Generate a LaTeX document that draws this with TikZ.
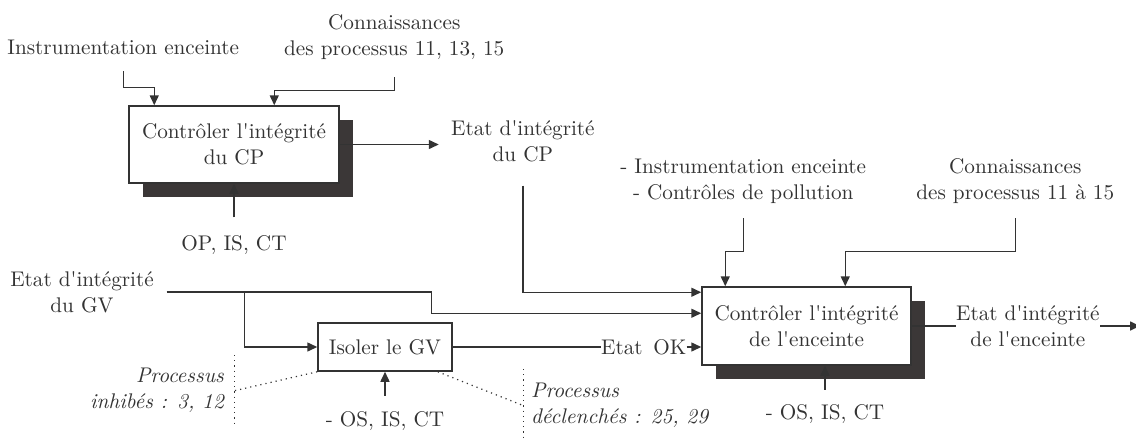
\documentclass[tikz,border=0pt]{standalone}
\usepackage{tikz}
\usetikzlibrary{positioning,calc,shadows,arrows.meta}
\definecolor{ink}{HTML}{333333}
\definecolor{shade}{HTML}{3B3737}
\newcommand{\ap}{\textquotesingle}

\begin{document}
\begin{tikzpicture}[
  font=\fontsize{10.6pt}{13pt}\selectfont,
  text=ink,
  task/.style={rectangle, draw=ink, line width=0.75pt, fill=white, inner sep=0pt, align=center},
  process/.style={task, general shadow={fill=shade, shadow xshift=7pt, shadow yshift=-7pt}},
  flowtext/.style={inner sep=0pt, align=center},
  remark/.style={inner sep=0pt, font=\fontsize{10.6pt}{13pt}\selectfont\itshape},
  arrow/.style={-{Triangle[length=5pt, width=4.5pt]}, draw=ink, line width=0.75pt},
  link/.style={draw=ink, line width=0.75pt},
  hint/.style={draw=ink, dotted, line width=0.6pt}
]
\useasboundingbox (0,0) rectangle (568pt,-220pt);
% boxes
\node[process, minimum width=105pt, minimum height=38.5pt] (cp) at (117pt,-72.25pt) {Contrôler l\ap intégrité\\du CP};
\node[process, minimum width=104.5pt, minimum height=39pt] (enc) at (403.25pt,-163pt) {Contrôler l\ap intégrité\\de l\ap enceinte};
\node[task, minimum width=67pt, minimum height=24pt] (iso) at (192.5pt,-173.5pt) {Isoler le GV};
% texts round the CP box
\node[flowtext, above=25pt of cp.north west, xshift=-2.5pt] (instr1) {Instrumentation enceinte};
\node[flowtext, above=22.5pt of cp.north west, xshift=133pt] (conn1) {Connaissances\\des processus 11, 13, 15};
\node[flowtext, right=55.5pt of cp, yshift=1.5pt] (etatcp) {Etat d\ap intégrité\\du CP};
\node[flowtext, below=25.75pt of cp] (opcp) {OP, IS, CT};
% texts round the GV box
\node[flowtext] (etatgv) at (41pt,-146pt) {Etat d\ap intégrité\\du GV};
\node[flowtext, below=19.5pt of iso] (osgv) {- OS, IS, CT};
\node[remark, align=right, left=46.5pt of iso.south west, yshift=-9.5pt] (inhib) {Processus\\inhibés : 3, 12};
\node[remark, align=left, right=39pt of iso.south east, yshift=-17pt] (decl) {Processus\\déclenchés : 25, 29};
\node[flowtext, right=74pt of iso] (etatok) {Etat\enspace OK};
% texts round the enceinte box
\node[flowtext, above=41pt of enc.north west, xshift=21pt] (instr3) {- Instrumentation enceinte\\- Contrôles de pollution};
\node[flowtext, above=41pt of enc.north west, xshift=157pt] (conn3) {Connaissances\\des processus 11 à 15};
\node[flowtext, right=22pt of enc] (etatenc) {Etat d\ap intégrité\\de l\ap enceinte};
\node[flowtext, below=19pt of enc, xshift=9.25pt] (osenc) {- OS, IS, CT};
\coordinate[right=20pt of etatenc] (encout);
% connectors
\draw[arrow] ([yshift=-8pt]instr1.south) -- ++(0,-8pt) -| ([xshift=13pt]cp.north west);
\draw[arrow] ([yshift=-8.5pt]conn1.south) -- ++(0,-6.5pt) -| ([xshift=73pt]cp.north west);
\draw[arrow] (cp.east) -- ([xshift=-6pt]etatcp.west |- cp.east);
\draw[arrow] ([yshift=9pt]opcp.north) -- (cp.south);
\draw[arrow] ([yshift=-11.5pt]etatcp.south) |- ([yshift=-3pt]enc.north west);
\draw[arrow] ([xshift=6.25pt]etatgv.east) -- ++(132.5pt,0) |- ([yshift=-13.5pt]enc.north west);
\draw[arrow] ([xshift=45.25pt]etatgv.east) |- (iso.west);
\draw[arrow] ([yshift=7.5pt]osgv.north) -- (iso.south);
\draw[link] (iso.east) -- (etatok.west);
\draw[arrow] (etatok.east) -- (etatok.east -| enc.west);
\draw[arrow] ([yshift=-7pt]instr3.south) -- ++(0,-16.5pt) -| ([xshift=12pt]enc.north west);
\draw[arrow] ([yshift=-7pt]conn3.south) -- ++(0,-16.5pt) -| ([xshift=72pt]enc.north west);
\draw[link] (enc.east) -- (etatenc.west);
\draw[arrow] (etatenc.east) -- (encout);
\draw[arrow] ([yshift=7pt]osenc.north) -- (osenc.north |- enc.south);
% dotted brackets
\draw[hint] ([xshift=5pt,yshift=6.5pt]inhib.north east) -- ([xshift=5pt,yshift=-5pt]inhib.south east);
\draw[hint] (iso.south west) -- ([xshift=5pt]inhib.east);
\draw[hint] ([xshift=-3.5pt,yshift=7pt]decl.north west) -- ([xshift=-3.5pt,yshift=-6pt]decl.south west);
\draw[hint] ([xshift=-7.5pt]iso.south east) -- ([xshift=-3.5pt]decl.west);
\end{tikzpicture}
\end{document}
